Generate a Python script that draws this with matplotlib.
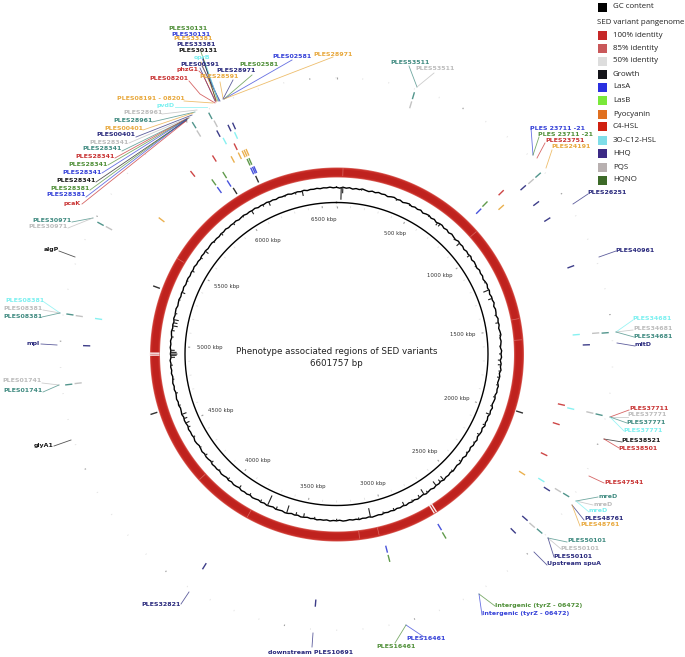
import numpy as np
from matplotlib import pyplot as plt

# genome
genome_kbp = 6601.757
scale_labels = [500, 1000, 1500, 2000, 2500, 3000, 3500, 4000, 4500, 5000, 5500, 6000, 6500]
ring_gaps_strong = [4945, 4956, 2708, 2722]
ring_gaps_faint = [37, 895, 1449, 1570, 3058, 3170, 3827, 4172, 5519]

# feature positions per track, kbp
growth_kbp = [6154, 6017, 5325, 4621, 1973]
lasA_kbp = [6148, 6158, 6166, 6011, 5950, 823, 2736, 3037]
lasB_kbp = [6150, 6160, 6015, 5950, 820, 2738, 3037]
pyo_kbp = [6145, 6155, 6165, 6087, 6125, 5639, 886, 2250]
c4_kbp = [5894, 6015, 6126, 836, 1883, 1973, 2123]
oc12_kbp = [6149, 6094, 1566, 1891, 2230, 5105]
hhq_kbp = [6085, 6137, 6158, 886, 972, 1054, 1276, 1612, 2250, 2404, 2476, 3389, 3886, 4986]
pqs_kbp = [6094, 6015, 5482, 304, 888, 1566, 1889, 2230, 2406, 5105, 4833]
hqno_kbp = [6090, 6017, 5481, 304, 888, 1568, 1889, 2229, 2404, 5106, 4832]

# GC content, deviation read round the circle
gc_dev = [0.7, -0.1, 0.9, 0.1, 0.8, -0.3, 0.6, 0.0, 1.0, 0.2, -0.4, 0.7, -0.1, 0.9, 0.2, 0.6, -0.5, 0.4, 0.9, -0.1,
          0.5, -0.6, 0.3, 0.8, -0.4, 0.5, -0.2, 0.7, -0.7, 0.2, 0.6, -0.5, 0.4, -0.8, 0.1, 0.5, -0.6, 0.2, -0.9, 0.3,
          -0.4, -1.1, 0.1, -0.6, -0.1, -1.2, -0.2, -0.9, 0.0, -1.3, -0.3, -0.8, -1.4, -0.2, -1.0, -0.4, -1.5, -0.6, -0.1, -1.2,
          -0.5, -1.6, -0.7, -1.1, -0.3, -1.7, -0.8, -1.2, -1.9, -0.6, -1.3, -0.8, -1.8, -1.0, -0.5, -1.7, -0.9, -1.4, -2.0, -0.8,
          -1.5, -0.9, -2.1, -1.1, -1.6, -0.7, -2.0, -1.2, -1.7, -2.3, -1.0, -1.6, -1.1, -2.2, -1.3, -1.8, -2.4, -1.0, -1.9, -1.2,
          -2.3, -1.4, -2.0, -1.1, -2.5, -1.5, -1.9, -2.6, -1.2, -2.0, -1.5, -2.7, -1.6, -2.1, -1.2, -2.5, -1.7, -1.1, -2.0, -1.4,
          -0.8, -1.7, -0.9, -1.3, -0.4, -1.5, -0.7, -1.1, -0.2, -1.2, -0.5, 0.1, -0.9, -0.3, 0.3, -0.7, 0.1, -0.4, 0.5, -0.3,
          0.4, -0.2, 0.7, 0.0, 0.5, -0.1, 0.8, 0.2, 0.6, 1.0, 0.1, 0.7, 0.3, 1.1, 0.4, 0.8, 0.2, 0.9, 1.2, 0.3,
          0.8, 0.5, 1.1, 0.2, 0.7, 0.4, 1.0, 0.1, 0.6, -0.1, 0.5, 0.8, -0.2, 0.4, -0.3, 0.6, 0.9, 0.0, 0.3, 0.7,
          -0.4, 0.2, 0.6, -0.3, 0.4, -0.5, 0.1, 0.5, -0.6, 0.3, -0.2, 0.4, -0.7, 0.0, 0.3, -0.6, 0.2, -0.8, -0.1, 0.3,
          -0.7, 0.0, -0.3, 0.2, -0.9, -0.2, 0.1, -0.6, 0.2, -0.5, -1.0, -0.1, 0.2, -0.8, -0.2, -0.5, 0.1, -0.9, -0.3, 0.0,
          -0.7, 0.1, -0.5, -0.9, 0.0, -0.6, 0.2, -0.4, -0.8, 0.1, -0.5, 0.3, -0.3, -0.7, 0.2, -0.4, 0.3, -0.2, 0.5, -0.5,
          0.1, -0.3, 0.4, -0.1, 0.5, -0.4, 0.2, 0.6, -0.2, 0.3, -0.3, 0.6, 0.0, 0.4, 0.7, -0.2, 0.3, 0.6, -0.1, 0.5,
          0.1, 0.8, -0.1, 0.4, 0.7, 0.0, 0.6, 0.2, 0.9, 0.1, 0.5, -0.1, 0.7, 0.3, 0.8, 0.1, 0.6, 0.9, 0.2, 0.5,
          0.0, 0.7, 0.3, 1.0, 0.1, 0.6, 0.3, 0.8, -0.1, 0.5, 0.9, 0.2, 0.7, 0.4, 1.0, 0.0, 0.6, 0.3, 0.9, 0.2,
          0.7, 0.0, 0.8, 0.3, 0.6, 1.0, 0.1, 0.5, 0.8, 0.2, 0.9, 0.0, 0.6, 0.3, 0.8, 0.1, 0.7, 0.4, 1.0, 0.2]
spike_kbp = [30, 40, 160, 6384, 6340, 6270, 6161, 6120, 6040, 5975, 5900, 5800, 5730, 5650, 5600, 5500, 5430, 5350, 5300,
             5210, 5170, 5150, 5130, 5100, 5060, 4975, 4962, 4951, 4943, 4930, 4880, 4790, 4700, 4620, 4560, 4530, 4500, 4470,
             4400, 4320, 4260, 4200, 4130, 4050, 3960, 3880, 3800, 3750, 3690, 3620, 3560, 3510, 3440, 3300, 3160, 3085, 3000,
             2930, 2860, 2800, 2750, 2715, 2690, 2620, 2585, 2560, 2480, 2400, 2330, 2250, 2190, 2120, 2045, 1990, 1930, 1850,
             1800, 1760, 1720, 1690, 1650, 1600, 1530, 1450, 1400, 1290, 1232, 1180, 1060, 980, 880, 840, 707, 690, 620, 480, 390]
spike_depth = [12, 6, 1.5, 5, 2, 1.5, 4, 2, 4, 1.5, 2, 2.5, 1.5, 4, 2, 2.5, 1.5, 3.5, 1.5,
               2, 5, 4, 5, 3, 2, 4, 6, 7, 6, 4, 2, 1.5, 2, 2, 5, 3.5, 4, 2.5,
               2, 1.5, 2.5, 2.5, 1.5, 2.5, 3, 2, 2.5, 11, 3, 8, 3, 4, 2, 2, 2, 9, 2,
               2.5, 4, 2, 3, 6, 2, 5, 3, 5, 2, 2.5, 1.5, 1.5, 2.5, 2.5, 4, 2, 2, 2,
               2.5, 2, 3, 2.5, 2, 1.5, 1.5, 3, 1.5, 4, 6, 1.5, 1.5, 3, 4, 1.5, 3, 3, 1.5, 1.5, 1.5]

# legend
legend_names = ['GC content', None, '100% identity', '85% identity', '50% identity', 'Growth', 'LasA', 'LasB',
                'Pyocyanin', 'C4-HSL', '3O-C12-HSL', 'HHQ', 'PQS', 'HQNO']
legend_colors = ['#000000', None, '#c62828', '#c9585a', '#dddddd', '#15151a', '#2a30e0', '#7ae83a',
                 '#e07020', '#cf2010', '#7fdde8', '#3c2a85', '#b8b0b0', '#3d6a28']
legend_y = [7, 22, 35.5, 48, 61, 74, 87, 100.5, 114, 126.5, 140, 153, 167, 180]

# feature labels
colors = {'growth': '#1a1a1a', 'lasA': '#3440d8', 'lasB': '#4f8f38', 'pyo': '#e8a83c', 'c4': '#c83232',
          'oc12': '#7af0f0', 'hhq': '#28287c', 'pqs': '#bcbcbc', 'hqno': '#3f8a80'}
label_names = ['PLES30131', 'PLES30131', 'PLES33381', 'PLES33381', 'PLES30131', 'oprB', 'PLES00391', 'phzG1',
               'PLES08201', 'PLES28591', 'PLES28971', 'PLES02581', 'PLES02581', 'PLES28971',
               'PLES08191 - 08201', 'pvdD', 'PLES28961', 'PLES28961', 'PLES00401', 'PLES00401', 'PLES28341', 'PLES28341',
               'PLES28341', 'PLES28341', 'PLES28341', 'PLES28341', 'PLES28381', 'PLES28381', 'pcaK',
               'PLES30971', 'PLES30971', 'algP', 'PLES08381', 'PLES08381', 'PLES08381', 'mpl', 'PLES01741', 'PLES01741', 'glyA1',
               'PLES53511', 'PLES53511', 'PLES 23711 -21', 'PLES 23711 -21', 'PLES23751', 'PLES24191', 'PLES26251', 'PLES40961',
               'PLES34681', 'PLES34681', 'PLES34681', 'mltD', 'PLES37711', 'PLES37771', 'PLES37771', 'PLES37771',
               'PLES38521', 'PLES38501', 'PLES47541', 'mreD', 'mreD', 'mreD', 'PLES48761', 'PLES48761',
               'PLES50101', 'PLES50101', 'PLES50101', 'Upstream spuA', 'Intergenic (tyrZ - 06472)', 'Intergenic (tyrZ - 06472)',
               'PLES32821', 'downstream PLES10691', 'PLES16461', 'PLES16461']
label_tracks = ['lasB', 'lasA', 'pyo', 'hhq', 'growth', 'oc12', 'hhq', 'c4',
                'c4', 'pyo', 'hhq', 'lasB', 'lasA', 'pyo',
                'pyo', 'oc12', 'pqs', 'hqno', 'pyo', 'hhq', 'pqs', 'hqno',
                'c4', 'lasB', 'lasA', 'growth', 'lasB', 'lasA', 'c4',
                'hqno', 'pqs', 'growth', 'oc12', 'pqs', 'hqno', 'hhq', 'pqs', 'hqno', 'growth',
                'hqno', 'pqs', 'lasA', 'lasB', 'c4', 'pyo', 'hhq', 'hhq',
                'oc12', 'pqs', 'hqno', 'hhq', 'c4', 'pqs', 'hqno', 'oc12',
                'growth', 'c4', 'c4', 'hqno', 'pqs', 'oc12', 'hhq', 'pyo',
                'hqno', 'pqs', 'hhq', 'hhq', 'lasB', 'lasA',
                'hhq', 'hhq', 'lasA', 'lasB']

# layout of the labels on the page (pixels)
label_xy = [(188, 28), (191, 34), (193, 39), (196, 45), (198, 51), (202, 57), (200, 64), (188, 70),
            (169, 78), (219, 77), (236, 71), (259, 64), (292, 57), (333, 54),
            (151, 98), (166, 105), (143, 113), (133, 121), (124, 128), (116, 135), (109, 142), (102, 149),
            (95, 157), (88, 164), (82, 172), (76, 180), (70, 189), (66, 195), (72, 203),
            (52, 220), (48, 227), (51, 250), (25, 301), (23, 309), (23, 316), (33, 344), (22, 381), (23, 391), (44, 445),
            (410, 62), (435, 69), (558, 128), (566, 134), (565, 141), (571, 147), (607, 193), (635, 250),
            (652, 319), (653, 329), (653, 337), (643, 344), (649, 409), (647, 415), (646, 423), (643, 430),
            (641, 441), (638, 448), (624, 483), (608, 496), (603, 504), (598, 511), (604, 518), (600, 524),
            (587, 541), (580, 549), (573, 556), (574, 564), (539, 605), (526, 613),
            (161, 605), (311, 652), (426, 639), (396, 647)]
label_links = [[(201, 52), (218, 101)], [(202, 58), (219, 101)], [(201, 62), (217, 101)], [(202, 66), (220, 101)],
               [(203, 58), (216, 101)], [(205, 62), (218, 100)], [(200, 68), (215, 101)], [(199, 71), (203, 75), (216, 102)],
               [(189, 81), (200, 94), (215, 103)], [(220, 82), (223, 98)], [(233, 80), (223, 99)],
               [(252, 75), (224, 99)], [(292, 60), (224, 99)], [(333, 57), (224, 99)],
               [(184, 101), (213, 103)], [(175, 107), (207, 107)], [(162, 114), (197, 110)], [(152, 122), (195, 112)],
               [(143, 130), (193, 113)], [(136, 137), (192, 115)], [(129, 143), (190, 117)], [(122, 151), (189, 118)],
               [(115, 158), (188, 118)], [(108, 165), (187, 119)], [(102, 173), (187, 119)], [(96, 182), (187, 120)],
               [(90, 190), (186, 120)], [(86, 197), (186, 120)], [(82, 204), (186, 121)],
               [(72, 222), (93, 218)], [(68, 228), (93, 218)], [(59, 251), (75, 257)],
               [(44, 302), (60, 313)], [(43, 310), (60, 313)], [(42, 317), (60, 313)], [(41, 344), (57, 345)],
               [(42, 383), (59, 385)], [(43, 392), (59, 385)], [(54, 446), (71, 440)],
               [(409, 66), (417, 87)], [(434, 73), (417, 87)], [(531, 128), (533, 155)], [(539, 137), (533, 155)],
               [(545, 143), (537, 158)], [(552, 150), (546, 168)], [(588, 194), (573, 204)], [(616, 251), (599, 257)],
               [(633, 320), (616, 332)], [(633, 330), (616, 332)], [(634, 337), (616, 332)], [(617, 343), (635, 346)],
               [(629, 410), (610, 417)], [(628, 417), (610, 417)], [(627, 423), (610, 417)], [(624, 431), (610, 417)],
               [(622, 442), (604, 439)], [(619, 448), (604, 439)], [(604, 483), (589, 476)],
               [(598, 497), (576, 501)], [(593, 505), (576, 501)], [(589, 512), (576, 501)],
               [(584, 520), (572, 505)], [(580, 526), (572, 505)],
               [(567, 542), (548, 538)], [(561, 549), (548, 538)], [(554, 557), (548, 538)], [(547, 565), (534, 552)],
               [(495, 606), (479, 594)], [(482, 615), (479, 594)],
               [(181, 604), (189, 592)], [(312, 647), (313, 633)], [(424, 637), (406, 625)], [(395, 643), (406, 625)]]

cx, cy = 336.5, 354.0
rmax = 336.0


def to_theta(kbp):
    return np.asarray(kbp) / genome_kbp * 2 * np.pi


def track(ax, kbp, r, color):
    ax.vlines(to_theta(kbp), r - 3.6, r + 3.6, colors=color, linewidth=1.0, alpha=0.9)


def ring_and_gc(ax):
    # outer band, a little lighter at both edges
    theta = np.linspace(0, 2 * np.pi, 721)
    ax.fill_between(theta, 177.0, 187.0, color='#d9625c', linewidth=0)
    ax.fill_between(theta, 177.7, 186.3, color='#c82c26', linewidth=0)
    ax.fill_between(theta, 179.0, 184.8, color='#bf221e', linewidth=0)
    ax.vlines(to_theta(ring_gaps_strong), 177, 187, colors='#fbeeee', linewidth=1.0)
    ax.vlines(to_theta(ring_gaps_faint), 178, 186, colors='#dc6a64', linewidth=0.5)

    ax.plot(theta, np.full_like(theta, 151.5), color='black', linewidth=1.0)

    gc_kbp = np.arange(len(gc_dev)) * genome_kbp / len(gc_dev)
    gc_r = 166.0 + np.array(gc_dev)
    ax.plot(to_theta(np.append(gc_kbp, genome_kbp)), np.append(gc_r, gc_r[0]), color='black', linewidth=1.0)
    base = np.interp(spike_kbp, gc_kbp, gc_r)
    ax.vlines(to_theta(spike_kbp), base - np.array(spike_depth), base + 0.4, colors='#222222', linewidth=0.8)

    # tick dots
    ticks = np.arange(0, genome_kbp, 100)
    major = ticks % 500 == 0
    for r0, r1 in [(146.5, 148.5), (275.5, 277)]:
        ax.vlines(to_theta(ticks[~major]), r0, r1, colors='#e2e2e2', linewidth=0.6)
        ax.vlines(to_theta(ticks[major]), r0, r1, colors='#a0a0a0', linewidth=0.8)


def main():
    fig = plt.figure(figsize=(6.85, 6.57), dpi=100)

    ax = fig.add_axes([(cx - rmax) / 685, (657 - cy - rmax) / 657, 2 * rmax / 685, 2 * rmax / 657], projection='polar')
    ax.set_theta_zero_location('N')
    ax.set_theta_direction(-1)
    ax.set_rlim(0, rmax)
    ax.axis('off')

    ring_and_gc(ax)
    track(ax, growth_kbp, 192, colors['growth'])
    track(ax, lasA_kbp, 201.5, colors['lasA'])
    track(ax, lasB_kbp, 211, colors['lasB'])
    track(ax, pyo_kbp, 220.5, colors['pyo'])
    track(ax, c4_kbp, 230.5, colors['c4'])
    track(ax, oc12_kbp, 240.5, colors['oc12'])
    track(ax, hhq_kbp, 250, colors['hhq'])
    track(ax, pqs_kbp, 260, colors['pqs'])
    track(ax, hqno_kbp, 269.5, colors['hqno'])

    # page layer for text and connectors
    pg = fig.add_axes([0, 0, 1, 1])
    pg.set_xlim(0, 685)
    pg.set_ylim(657, 0)
    pg.axis('off')

    for k in scale_labels:
        a = k / genome_kbp * 2 * np.pi
        pg.text(cx + 127 * np.sin(a), cy - 135 * np.cos(a), '%d kbp' % k, fontsize=3.9, color='#333333',
                ha='center', va='center')

    pg.text(cx, 351.7, 'Phenotype associated regions of SED variants', fontsize=6.3, color='#222222',
            ha='center', va='center')
    pg.text(cx, 364, '6601757 bp', fontsize=6.3, color='#222222', ha='center', va='center')

    for name, tr, xy, link in zip(label_names, label_tracks, label_xy, label_links):
        pts = np.array(link)
        pg.plot(pts[:, 0], pts[:, 1], color=colors[tr], linewidth=0.6, alpha=0.75)
        pg.text(xy[0], xy[1], name, color=colors[tr], fontsize=4.5, fontweight='bold', ha='center', va='center')

    for name, col, y in zip(legend_names, legend_colors, legend_y):
        if name is None:
            pg.text(597, y, 'SED variant pangenome', fontsize=5.7, family='Open Sans', color='#222222', va='center')
            continue
        pg.add_patch(plt.Rectangle((598, y - 4.5), 9, 9, color=col, linewidth=0))
        pg.text(613, y, name, fontsize=5.7, family='Open Sans', color='#222222', va='center')

    fig.savefig('out.png', dpi=100)


if __name__ == '__main__':
    main()
